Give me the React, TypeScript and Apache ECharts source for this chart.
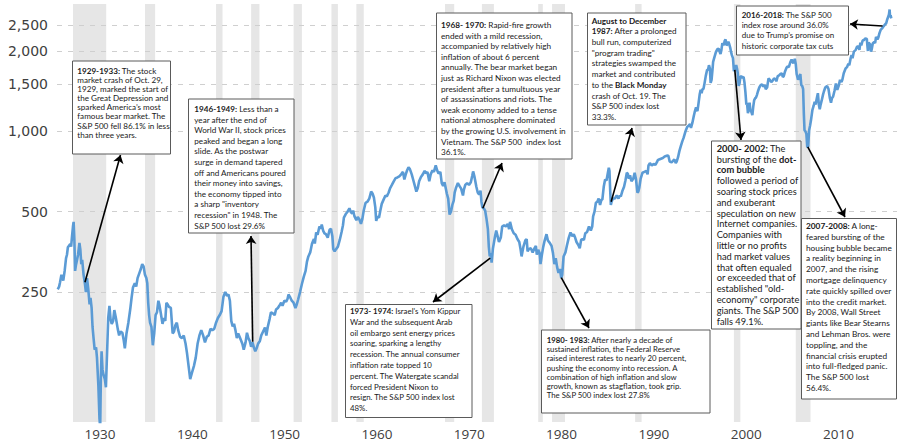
import React, { useEffect, useRef } from "react";
import * as echarts from "echarts";

// Inflation-adjusted S&P 500 index, [year, value]
const realIndex: [number, number][] = [
  [1927.95, 256], [1928.1, 262], [1928.2, 272], [1928.35, 290], [1928.45, 284], [1928.55, 276], [1928.7, 300], [1928.85, 335], [1928.95, 345],
  [1929.05, 368], [1929.15, 372], [1929.3, 378], [1929.4, 370], [1929.5, 405], [1929.6, 440], [1929.67, 458], [1929.75, 395], [1929.83, 300], [1929.92, 315],
  [1930.0, 325], [1930.15, 345], [1930.3, 382], [1930.4, 360], [1930.5, 318], [1930.6, 330], [1930.75, 290], [1930.9, 268],
  [1931.0, 250], [1931.12, 282], [1931.25, 258], [1931.4, 225], [1931.5, 238], [1931.62, 218], [1931.72, 185], [1931.83, 168], [1931.95, 152],
  [1932.1, 155], [1932.2, 142], [1932.35, 112], [1932.47, 84], [1932.55, 78], [1932.62, 118], [1932.7, 150], [1932.8, 128], [1932.92, 122],
  [1933.05, 118], [1933.17, 110], [1933.3, 150], [1933.42, 200], [1933.55, 222], [1933.67, 198], [1933.8, 190], [1933.95, 195],
  [1934.08, 214], [1934.25, 200], [1934.45, 182], [1934.6, 172], [1934.75, 178], [1934.95, 176],
  [1935.1, 165], [1935.22, 154], [1935.4, 175], [1935.6, 192], [1935.8, 215], [1935.95, 238],
  [1936.1, 260], [1936.3, 270], [1936.45, 262], [1936.6, 282], [1936.8, 295], [1936.95, 305],
  [1937.1, 318], [1937.25, 312], [1937.4, 290], [1937.55, 282], [1937.65, 270], [1937.75, 228], [1937.85, 205], [1937.95, 192],
  [1938.1, 185], [1938.25, 158], [1938.4, 175], [1938.55, 205], [1938.7, 210], [1938.85, 232], [1938.95, 225],
  [1939.1, 210], [1939.3, 190], [1939.45, 200], [1939.6, 195], [1939.72, 228], [1939.85, 225],
  [1940.0, 220], [1940.2, 218], [1940.4, 175], [1940.55, 178], [1940.7, 188], [1940.85, 192],
  [1941.0, 180], [1941.2, 170], [1941.4, 168], [1941.6, 172], [1941.8, 160], [1941.95, 148],
  [1942.15, 130], [1942.3, 118], [1942.5, 125], [1942.7, 132], [1942.9, 142],
  [1943.1, 160], [1943.3, 172], [1943.5, 180], [1943.7, 172], [1943.9, 162],
  [1944.1, 170], [1944.3, 172], [1944.5, 182], [1944.7, 180], [1944.9, 182],
  [1945.1, 192], [1945.3, 200], [1945.5, 205], [1945.7, 212], [1945.9, 240],
  [1946.1, 250], [1946.3, 242], [1946.45, 245], [1946.6, 232], [1946.75, 195], [1946.9, 186],
  [1947.05, 190], [1947.2, 180], [1947.35, 168], [1947.5, 175], [1947.65, 170], [1947.8, 165], [1947.95, 160],
  [1948.1, 152], [1948.3, 162], [1948.45, 176], [1948.6, 168], [1948.75, 164], [1948.9, 156],
  [1949.05, 162], [1949.2, 155], [1949.35, 150], [1949.5, 154], [1949.65, 160], [1949.85, 164],
  [1950.0, 172], [1950.2, 178], [1950.4, 184], [1950.55, 172], [1950.7, 185], [1950.9, 198],
  [1951.05, 210], [1951.25, 208], [1951.45, 205], [1951.6, 215], [1951.8, 218], [1951.95, 222],
  [1952.15, 228], [1952.3, 222], [1952.5, 232], [1952.7, 230], [1952.85, 236], [1952.95, 245],
  [1953.1, 240], [1953.3, 232], [1953.5, 228], [1953.7, 218], [1953.85, 225],
  [1954.0, 235], [1954.2, 250], [1954.4, 268], [1954.6, 285], [1954.8, 300], [1954.95, 325],
  [1955.1, 340], [1955.3, 352], [1955.5, 380], [1955.7, 395], [1955.8, 380], [1955.95, 418],
  [1956.1, 410], [1956.3, 440], [1956.45, 432], [1956.55, 448], [1956.7, 425], [1956.85, 415],
  [1957.0, 412], [1957.2, 400], [1957.4, 428], [1957.55, 432], [1957.7, 405], [1957.8, 362], [1957.95, 355],
  [1958.1, 362], [1958.3, 370], [1958.5, 392], [1958.7, 420], [1958.85, 445], [1958.95, 475],
  [1959.15, 490], [1959.35, 500], [1959.55, 515], [1959.7, 498], [1959.85, 492], [1959.95, 505],
  [1960.1, 480], [1960.3, 465], [1960.45, 478], [1960.6, 470], [1960.8, 450], [1960.95, 470],
  [1961.1, 505], [1961.3, 540], [1961.5, 545], [1961.7, 560], [1961.9, 595],
  [1962.05, 585], [1962.2, 565], [1962.35, 520], [1962.45, 462], [1962.6, 480], [1962.75, 475], [1962.9, 505],
  [1963.05, 535], [1963.25, 555], [1963.45, 575], [1963.6, 570], [1963.8, 590], [1963.95, 612],
  [1964.15, 630], [1964.35, 650], [1964.55, 668], [1964.75, 672], [1964.95, 678],
  [1965.15, 690], [1965.35, 705], [1965.5, 660], [1965.65, 690], [1965.8, 715], [1965.95, 733],
  [1966.1, 722], [1966.3, 690], [1966.45, 660], [1966.6, 632], [1966.8, 595], [1966.95, 612],
  [1967.1, 650], [1967.3, 675], [1967.5, 690], [1967.7, 712], [1967.85, 695],
  [1968.0, 705], [1968.2, 650], [1968.35, 690], [1968.55, 715], [1968.7, 705], [1968.9, 745],
  [1969.05, 715], [1969.2, 695], [1969.4, 705], [1969.55, 640], [1969.7, 625], [1969.85, 645], [1969.95, 620],
  [1970.1, 585], [1970.25, 560], [1970.4, 488], [1970.55, 500], [1970.7, 530], [1970.85, 550], [1970.95, 590],
  [1971.1, 615], [1971.3, 640], [1971.5, 622], [1971.65, 610], [1971.85, 575], [1971.95, 605],
  [1972.1, 630], [1972.3, 640], [1972.5, 630], [1972.7, 645], [1972.85, 680], [1972.95, 708],
  [1973.1, 675], [1973.3, 620], [1973.45, 590], [1973.6, 580], [1973.75, 600], [1973.85, 545], [1973.95, 520],
  [1974.1, 515], [1974.25, 505], [1974.4, 470], [1974.55, 430], [1974.65, 370], [1974.75, 340], [1974.85, 350], [1974.95, 322],
  [1975.1, 365], [1975.3, 400], [1975.45, 425], [1975.6, 405], [1975.75, 385], [1975.95, 400],
  [1976.1, 440], [1976.3, 445], [1976.5, 440], [1976.7, 450], [1976.85, 430], [1976.95, 458],
  [1977.15, 430], [1977.35, 415], [1977.55, 410], [1977.75, 395], [1977.95, 385],
  [1978.1, 360], [1978.2, 340], [1978.4, 370], [1978.6, 390], [1978.75, 395], [1978.85, 355],
  [1979.0, 362], [1979.2, 365], [1979.4, 352], [1979.6, 365], [1979.75, 372], [1979.85, 345],
  [1980.0, 360], [1980.15, 350], [1980.25, 318], [1980.4, 345], [1980.55, 370], [1980.7, 390], [1980.9, 412],
  [1981.05, 390], [1981.25, 382], [1981.45, 372], [1981.6, 350], [1981.75, 318], [1981.9, 335],
  [1982.05, 310], [1982.2, 295], [1982.35, 305], [1982.5, 282], [1982.6, 290], [1982.75, 340], [1982.95, 352],
  [1983.1, 372], [1983.3, 398], [1983.5, 418], [1983.7, 405], [1983.85, 412],
  [1984.0, 400], [1984.15, 385], [1984.35, 375], [1984.5, 365], [1984.65, 392], [1984.8, 395], [1984.95, 392],
  [1985.1, 415], [1985.3, 420], [1985.5, 440], [1985.7, 425], [1985.85, 440], [1985.95, 480],
  [1986.1, 500], [1986.25, 540], [1986.4, 545], [1986.55, 560], [1986.7, 530], [1986.85, 555], [1986.95, 555],
  [1987.1, 620], [1987.25, 660], [1987.4, 655], [1987.55, 700], [1987.65, 730], [1987.72, 710], [1987.8, 600], [1987.87, 530], [1987.95, 545],
  [1988.1, 560], [1988.3, 560], [1988.5, 575], [1988.7, 560], [1988.85, 575], [1988.95, 570],
  [1989.1, 595], [1989.3, 620], [1989.45, 655], [1989.6, 700], [1989.72, 692], [1989.8, 665], [1989.95, 685],
  [1990.1, 650], [1990.3, 665], [1990.45, 700], [1990.6, 660], [1990.75, 590], [1990.85, 595], [1990.95, 615],
  [1991.1, 665], [1991.3, 700], [1991.5, 705], [1991.7, 710], [1991.85, 690], [1991.95, 745],
  [1992.1, 760], [1992.3, 745], [1992.5, 755], [1992.7, 750], [1992.85, 765], [1992.95, 780],
  [1993.1, 785], [1993.3, 790], [1993.5, 795], [1993.7, 805], [1993.85, 808], [1993.95, 812],
  [1994.1, 810], [1994.25, 770], [1994.45, 765], [1994.6, 775], [1994.75, 785], [1994.9, 760],
  [1995.0, 770], [1995.15, 800], [1995.3, 845], [1995.45, 880], [1995.6, 915], [1995.75, 945], [1995.9, 985],
  [1996.0, 1010], [1996.15, 1040], [1996.3, 1050], [1996.45, 1065], [1996.55, 1030], [1996.7, 1075], [1996.85, 1140], [1996.95, 1180],
  [1997.1, 1230], [1997.25, 1190], [1997.35, 1260], [1997.5, 1380], [1997.6, 1430], [1997.7, 1390], [1997.8, 1440], [1997.9, 1440],
  [1998.0, 1500], [1998.15, 1610], [1998.3, 1700], [1998.4, 1700], [1998.5, 1770], [1998.6, 1720], [1998.68, 1520], [1998.78, 1560], [1998.88, 1700], [1998.95, 1820],
  [1999.1, 1900], [1999.25, 1980], [1999.4, 2030], [1999.55, 2040], [1999.65, 1990], [1999.75, 1950], [1999.85, 2020], [1999.95, 2140],
  [2000.1, 2100], [2000.2, 2180], [2000.3, 2210], [2000.4, 2100], [2000.5, 2120], [2000.6, 2170], [2000.7, 2120], [2000.8, 2060], [2000.9, 1980], [2000.98, 1930],
  [2001.1, 1880], [2001.2, 1680], [2001.3, 1720], [2001.45, 1770], [2001.55, 1710], [2001.62, 1650], [2001.72, 1480], [2001.82, 1520], [2001.9, 1600], [2001.98, 1610],
  [2002.1, 1590], [2002.25, 1600], [2002.35, 1520], [2002.45, 1400], [2002.55, 1260], [2002.62, 1280], [2002.72, 1170], [2002.82, 1220], [2002.9, 1280], [2002.98, 1200],
  [2003.1, 1180], [2003.2, 1150], [2003.3, 1240], [2003.4, 1310], [2003.5, 1330], [2003.6, 1340], [2003.7, 1370], [2003.8, 1410], [2003.95, 1460],
  [2004.1, 1490], [2004.25, 1500], [2004.4, 1470], [2004.55, 1490], [2004.65, 1440], [2004.8, 1460], [2004.95, 1580],
  [2005.1, 1560], [2005.25, 1530], [2005.4, 1550], [2005.55, 1580], [2005.7, 1570], [2005.8, 1540], [2005.95, 1610],
  [2006.1, 1620], [2006.25, 1640], [2006.4, 1650], [2006.5, 1600], [2006.6, 1610], [2006.75, 1680], [2006.9, 1730],
  [2007.0, 1750], [2007.15, 1740], [2007.3, 1810], [2007.45, 1860], [2007.55, 1820], [2007.65, 1800], [2007.8, 1870], [2007.9, 1790],
  [2008.0, 1640], [2008.15, 1560], [2008.25, 1590], [2008.4, 1640], [2008.5, 1490], [2008.6, 1480], [2008.7, 1440], [2008.78, 1160], [2008.85, 1010], [2008.95, 1000],
  [2009.05, 980], [2009.15, 870], [2009.25, 880], [2009.35, 1010], [2009.45, 1050], [2009.55, 1100], [2009.7, 1200], [2009.85, 1250], [2009.95, 1290],
  [2010.05, 1260], [2010.2, 1340], [2010.3, 1390], [2010.4, 1260], [2010.5, 1210], [2010.6, 1260], [2010.7, 1300], [2010.85, 1370], [2010.95, 1410],
  [2011.1, 1460], [2011.3, 1480], [2011.45, 1440], [2011.6, 1330], [2011.72, 1280], [2011.82, 1330], [2011.95, 1350],
  [2012.1, 1420], [2012.25, 1510], [2012.4, 1430], [2012.55, 1480], [2012.7, 1560], [2012.85, 1530], [2012.95, 1560],
  [2013.1, 1650], [2013.3, 1720], [2013.45, 1740], [2013.6, 1790], [2013.7, 1770], [2013.85, 1880], [2013.95, 1930],
  [2014.05, 1880], [2014.2, 1990], [2014.4, 2020], [2014.55, 2080], [2014.7, 2080], [2014.8, 2020], [2014.9, 2150],
  [2015.0, 2100], [2015.15, 2190], [2015.3, 2200], [2015.45, 2230], [2015.6, 2220], [2015.67, 2080], [2015.72, 2000], [2015.8, 2150], [2015.95, 2120],
  [2016.05, 1990], [2016.12, 2020], [2016.25, 2140], [2016.4, 2160], [2016.5, 2140], [2016.6, 2260], [2016.75, 2210], [2016.85, 2250], [2016.95, 2320],
  [2017.1, 2400], [2017.25, 2430], [2017.4, 2470], [2017.55, 2510], [2017.7, 2540], [2017.8, 2620], [2017.9, 2680],
  [2018.0, 2740], [2018.07, 2860], [2018.12, 2680], [2018.18, 2720], [2018.25, 2650],
];

// US recessions (shaded bands)
const recessionStarts = [1929.6, 1937.4, 1945.1, 1948.9, 1953.5, 1957.6, 1960.3, 1969.9, 1973.9, 1980.0, 1981.5, 1990.5, 2001.2, 2007.9];
const recessionEnds = [1933.2, 1938.5, 1945.8, 1949.8, 1954.4, 1958.3, 1961.1, 1970.9, 1975.2, 1980.5, 1982.9, 1991.2, 2001.9, 2009.5];

const yTickValues = [250, 500, 1000, 1500, 2000, 2500];
const xTickLabels = [1930, 1940, 1950, 1960, 1970, 1980, 1990, 2000, 2010];

// annotation texts (**bold**)
const note1929 = ["**1929-1933:** The stock", "market crash of Oct. 29,", "1929, marked the start of", "the Great Depression and", "sparked America\u2019s most", "famous bear market. The", "S&P 500 fell 86.1% in less", "than three years."];
const note1946 = ["**1946-1949:** Less than a", "year after the end of", "World War II, stock prices", "peaked and began a long", "slide. As the postwar", "surge in demand tapered", "off and Americans poured", "their money into savings,", "the economy tipped into", "a sharp \"inventory", "recession\" in 1948. The", "S&P 500 lost 29.6%"];
const note1968 = ["**1968- 1970:** Rapid-fire growth", "ended with a mild recession,", "accompanied by relatively high", "inflation of about 6 percent", "annually. The bear market began", "just as Richard Nixon was elected", "president after a tumultuous year", "of assassinations and riots. The", "weak economy added to a tense", "national atmosphere dominated", "by the growing U.S. involvement in", "Vietnam. The S&P 500  index lost", "36.1%."];
const note1987 = ["**August to December**", "**1987:** After a prolonged", "bull run, computerized", "\"program trading\"", "strategies swamped the", "market and contributed", "to the **Black Monday**", "crash of Oct. 19. The", "S&P 500 index lost", "33.3%."];
const note2016 = ["**2016-2018:** The S&P 500", "index rose around 36.0%", "due to Trump\u2019s promise on", "historic corporate tax cuts"];
const note2000 = ["**2000- 2002:** The", "bursting of the **dot-**", "**com bubble**", "followed a period of", "soaring stock prices", "and exuberant", "speculation on new", "Internet companies.", "Companies with", "little or no profits", "had market values", "that often equaled", "or exceeded that of", "established \"old-", "economy\" corporate", "giants. The S&P 500", "falls 49.1%."];
const note2007 = ["**2007-2008:** A long-", "feared bursting of the", "housing bubble became", "a reality beginning in", "2007, and the rising", "mortgage delinquency", "rate quickly spilled over", "into the credit market.", "By 2008, Wall Street", "giants like Bear Stearns", "and Lehman Bros. were", "toppling, and the", "financial crisis erupted", "into full-fledged panic.", "The S&P 500 lost", "56.4%."];
const note1973 = ["**1973- 1974:** Israel's Yom Kippur", "War and the subsequent Arab", "oil embargo sent energy prices", "soaring, sparking a lengthy", "recession. The annual consumer", "inflation rate topped 10", "percent. The Watergate scandal", "forced President Nixon to", "resign. The S&P 500 index lost", "48%."];
const note1980 = ["**1980- 1983:** After nearly a decade of", "sustained inflation, the Federal Reserve", "raised interest rates to nearly 20 percent,", "pushing the economy into recession. A", "combination of high inflation and slow", "growth, known as stagflation, took grip.", "The S&P 500 index lost 27.8%"];

// data points the arrows start from [year, value]
const arrowSources: [number, number][] = [
  [1930.9, 272], [1949.07, 163], [1974.0, 515], [1987.9, 545], [2017.3, 2480],
  [2001.3, 1700], [2009.2, 875], [1974.8, 335], [1982.5, 283],
];

// ---- layout (pixels) ----
type BoxLayout = { x: number; y: number; w: number; h: number; tx: number; fc: number; lh: number; ref: number; refW: number };
const boxLayouts: BoxLayout[] = [
  { x: 72.5, y: 61, w: 98, h: 93, tx: 77.3, fc: 71, lh: 9.1, ref: 3, refW: 91 },
  { x: 188.5, y: 99, w: 105.5, h: 134, tx: 194.3, fc: 109, lh: 10.6, ref: 2, refW: 92 },
  { x: 436.5, y: 13, w: 135.5, h: 146, tx: 441, fc: 25, lh: 10.6, ref: 10, refW: 125 },
  { x: 587.5, y: 13, w: 98.5, h: 112, tx: 591.7, fc: 20.7, lh: 10.7, ref: 1, refW: 85.6 },
  { x: 736.5, y: 6, w: 112, h: 49, tx: 741.7, fc: 15, lh: 10.2, ref: 3, refW: 91.7 },
  { x: 711.5, y: 141, w: 89.5, h: 188, tx: 716.7, fc: 148.3, lh: 10.8, ref: 14, refW: 82.7 },
  { x: 801.5, y: 218.5, w: 95, h: 180.5, tx: 806, fc: 226, lh: 10.8, ref: 6, refW: 85.7 },
  { x: 345.5, y: 304.5, w: 126.5, h: 113, tx: 350, fc: 311, lh: 10.8, ref: 4, refW: 110 },
  { x: 541.5, y: 330, w: 168.5, h: 83, tx: 546.7, fc: 340, lh: 9.2, ref: 2, refW: 140 },
];
const notes = [note1929, note1946, note1968, note1987, note2016, note2000, note2007, note1973, note1980];
const arrowHeads: [number, number][] = [
  [120.5, 155], [251, 236], [502, 163], [632, 128], [850, 24],
  [741, 140], [845, 217], [433, 302], [589, 328],
];

const X_MIN = 1927.87;
const X_MAX = 2018.87;
const LABEL_SHIFT = 2.53;
const NOTE_FONT = "Lato";

function segments(line: string) {
  return line.split("**").map((t, i) => ({ t, b: i % 2 === 1 })).filter((s) => s.t.length > 0);
}
function toRich(line: string) {
  return segments(line).map((s) => (s.b ? `{b|${s.t}}` : s.t)).join("");
}

export default function App() {
  const ref = useRef<HTMLDivElement>(null);
  useEffect(() => {
    const el = ref.current;
    if (!el) return;
    const chart = echarts.init(el, null, { renderer: "svg", width: 900, height: 441 });

    const canvas = document.createElement("canvas");
    const ctx = canvas.getContext("2d");
    const measure = (line: string, size: number) => {
      if (!ctx) return 0;
      let w = 0;
      for (const s of segments(line)) {
        ctx.font = `${s.b ? "bold " : ""}${size}px ${NOTE_FONT}`;
        w += ctx.measureText(s.t).width;
      }
      return w;
    };

    const graphics: any[] = [];
    notes.forEach((lines, i) => {
      const L = boxLayouts[i];
      const mw = measure(lines[L.ref], 10);
      const fs = mw > 0 ? Math.min(9.5, (10 * L.refW) / mw) : 8;
      graphics.push({
        type: "rect",
        z: 100,
        shape: { x: L.x, y: L.y, width: L.w, height: L.h },
        style: { fill: "#ffffff", stroke: "#5a5a5a", lineWidth: 1 },
      });
      graphics.push({
        type: "text",
        z: 101,
        x: L.tx,
        y: L.fc - L.lh / 2,
        style: {
          text: lines.map(toRich).join("\n"),
          fill: "#1a1a1a",
          fontFamily: NOTE_FONT,
          fontSize: fs,
          lineHeight: L.lh,
          align: "left",
          verticalAlign: "top",
          rich: {
            b: { fontWeight: "bold", fontFamily: NOTE_FONT, fontSize: fs, lineHeight: L.lh, fill: "#1a1a1a" },
          },
        },
      });
    });

    const option: any = {
      animation: false,
      backgroundColor: "#ffffff",
      grid: { left: 57, right: 3, top: 4, bottom: 19 },
      xAxis: [
        { type: "value", min: X_MIN, max: X_MAX, show: false },
        {
          type: "value",
          min: X_MIN - LABEL_SHIFT,
          max: X_MAX - LABEL_SHIFT,
          position: "bottom",
          axisLine: { show: false },
          axisTick: { show: false },
          splitLine: { show: false },
          axisLabel: {
            customValues: xTickLabels,
            formatter: (v: number) => String(v),
            fontFamily: "Open Sans",
            fontSize: 13.5,
            lineHeight: 13,
            color: "#404040",
            margin: 5,
          },
        },
      ],
      yAxis: { type: "log", logBase: 10, min: 81.5, max: 3000, show: false },
      series: [
        {
          type: "line",
          name: "S&P 500",
          xAxisIndex: 0,
          yAxisIndex: 0,
          data: realIndex,
          showSymbol: false,
          symbol: "none",
          clip: true,
          z: 3,
          lineStyle: { color: "#5B9BD5", width: 2.6 },
          itemStyle: { color: "#5B9BD5" },
          emphasis: { disabled: true },
          markArea: {
            silent: true,
            z: 1,
            itemStyle: { color: "#e6e6e6" },
            data: recessionStarts.map((s, i) => [{ xAxis: s }, { xAxis: recessionEnds[i] }]),
          },
          markLine: {
            silent: true,
            z: 2,
            symbol: "none",
            lineStyle: { type: [5, 6], color: "#cfcfcf", width: 1 },
            emphasis: { disabled: true },
            label: {
              show: true,
              position: "start",
              distance: 9,
              formatter: (p: any) => Number(p.value).toLocaleString("en-US"),
              fontFamily: "DejaVu Sans",
              fontSize: 14,
              color: "#404040",
            },
            data: yTickValues.map((v) => ({ yAxis: v })),
          },
        },
        {
          type: "line",
          name: "arrows",
          xAxisIndex: 0,
          yAxisIndex: 0,
          data: [],
          markLine: {
            silent: true,
            z: 6,
            symbol: ["none", "arrow"],
            symbolSize: 8,
            lineStyle: { type: "solid", color: "#000000", width: 1.6 },
            emphasis: { disabled: true },
            label: { show: false },
            data: arrowSources.map((src, i) => [
              { coord: src },
              { x: arrowHeads[i][0], y: arrowHeads[i][1] },
            ]),
          },
        },
      ],
      graphic: graphics,
    };
    chart.setOption(option);
    return () => chart.dispose();
  }, []);
  return (
    <div
      ref={ref}
      style={{ position: "fixed", left: 0, top: 0, width: 900, height: 441, background: "#fff" }}
    />
  );
}
